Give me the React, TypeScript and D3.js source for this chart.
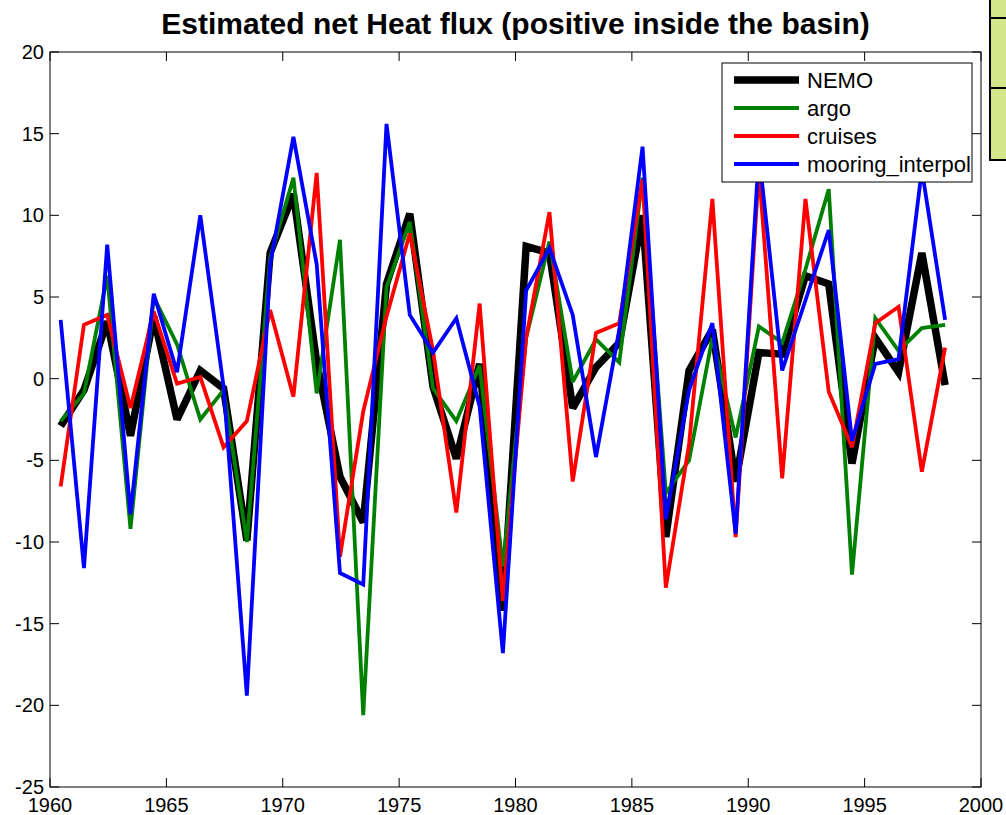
import React from 'react';
import * as d3 from 'd3';

// yearly values, plotted at mid-year
const years = [1960, 1961, 1962, 1963, 1964, 1965, 1966, 1967, 1968, 1969, 1970, 1971, 1972, 1973, 1974, 1975, 1976, 1977, 1978, 1979, 1980, 1981, 1982, 1983, 1984, 1985, 1986, 1987, 1988, 1989, 1990, 1991, 1992, 1993, 1994, 1995, 1996, 1997, 1998];
const nemo = [-2.9, -0.7, 3.5, -3.5, 3.8, -2.5, 0.5, -0.6, -9.9, 7.7, 11.3, 1.0, -6.0, -8.8, 5.8, 10.1, -0.5, -4.9, 0.9, -14.2, 8.1, 7.7, -1.8, 0.7, 2.2, 10.0, -9.7, 0.5, 3.0, -6.3, 1.6, 1.5, 6.3, 5.8, -5.2, 2.5, 0.4, 7.7, -0.4];
const argo = [-2.6, -0.9, 6.3, -9.2, 5.0, 2.1, -2.5, -0.7, -10.0, 7.4, 12.3, -0.9, 8.5, -20.6, 5.6, 9.6, -0.6, -2.6, 0.8, -11.5, 2.5, 8.4, -0.2, 2.4, 1.0, 12.3, -7.0, -5.0, 2.5, -3.6, 3.2, 2.2, 6.7, 11.6, -12.0, 3.7, 1.7, 3.1, 3.3];
const cruises = [-6.6, 3.3, 3.9, -1.8, 4.1, -0.3, 0.1, -4.2, -2.6, 4.2, -1.1, 12.6, -10.9, -2.0, 3.8, 8.9, 1.7, -8.2, 4.6, -13.6, 2.5, 10.2, -6.3, 2.8, 3.4, 12.2, -12.8, -4.0, 11.0, -9.7, 12.8, -6.1, 11.0, -0.8, -4.2, 3.4, 4.4, -5.7, 1.9];
const mooring = [3.6, -11.6, 8.2, -8.3, 5.2, 0.4, 10.0, -0.5, -19.4, 7.0, 14.8, 7.0, -11.9, -12.6, 15.6, 3.9, 1.6, 3.7, -1.7, -16.8, 5.4, 8.0, 3.9, -4.8, 3.0, 14.2, -8.6, -0.7, 3.4, -9.5, 13.8, 0.5, 4.8, 9.1, -3.8, 0.9, 1.2, 12.8, 3.6];

const seriesNames = ['NEMO', 'argo', 'cruises', 'mooring_interpol'];
const seriesColors = ['#000000', '#008000', '#ff0000', '#0000ff'];
const seriesWidths = [7.5, 3.8, 3.8, 3.8];
const seriesValues = [nemo, argo, cruises, mooring];

const xTicks = [1960, 1965, 1970, 1975, 1980, 1985, 1990, 1995, 2000];
const yTicks = [-25, -20, -15, -10, -5, 0, 5, 10, 15, 20];

const W = 1006;
const H = 815;
const margin = { left: 50, right: 25, top: 52, bottom: 28 };
const FONT = '"Liberation Sans", Arial, Helvetica, sans-serif';
const MID_YEAR = 5.5 / 12;

export default function App() {
  const x = d3.scaleLinear().domain([1960, 2000]).range([margin.left, W - margin.right]);
  const y = d3.scaleLinear().domain([-25, 20]).range([H - margin.bottom, margin.top]);
  const line = d3.line<number>()
    .x((_, i) => x(years[i] + MID_YEAR))
    .y(d => y(d));

  const x0 = x.range()[0], x1 = x.range()[1];
  const y0 = y.range()[1], y1 = y.range()[0];
  const tick = 9;

  // legend box
  const lg = { x: 722, y: 63, w: 250, h: 119 };

  return (
    <svg width={W} height={H} style={{ position: 'absolute', left: 0, top: 0, background: '#fff' }}
      fontFamily={FONT}>
      <rect x={0} y={0} width={W} height={H} fill="#fff" />

      {/* partial colorbar-like box at the right edge */}
      <rect x={990} y={-2} width={30} height={162} fill="#d4e68a" stroke="#000" strokeWidth={2} />
      <line x1={990} x2={1010} y1={18} y2={18} stroke="#000" strokeWidth={2} />
      <line x1={990} x2={1010} y1={88} y2={88} stroke="#000" strokeWidth={2} />

      <text x={(x0 + x1) / 2} y={34} textAnchor="middle" fontSize={30} fontWeight="bold">
        Estimated net Heat flux (positive inside the basin)
      </text>

      <g clipPath="url(#plotclip)">
        {seriesValues.map((vals, k) => (
          <path key={seriesNames[k]} d={line(vals) || ''} fill="none" stroke={seriesColors[k]}
            strokeWidth={seriesWidths[k]} strokeLinejoin="miter" strokeMiterlimit={3} />
        ))}
      </g>
      <defs>
        <clipPath id="plotclip">
          <rect x={x0} y={y0} width={x1 - x0} height={y1 - y0} />
        </clipPath>
      </defs>

      {/* axes box */}
      <rect x={x0} y={y0} width={x1 - x0} height={y1 - y0} fill="none" stroke="#000" strokeWidth={1} />

      {xTicks.map(t => (
        <g key={'x' + t}>
          <line x1={x(t)} x2={x(t)} y1={y1} y2={y1 - tick} stroke="#000" />
          <line x1={x(t)} x2={x(t)} y1={y0} y2={y0 + tick} stroke="#000" />
          <text x={x(t)} y={y1 + 25} textAnchor="middle" fontSize={20}>{t}</text>
        </g>
      ))}
      {yTicks.map(t => (
        <g key={'y' + t}>
          <line x1={x0} x2={x0 + tick} y1={y(t)} y2={y(t)} stroke="#000" />
          <line x1={x1} x2={x1 - tick} y1={y(t)} y2={y(t)} stroke="#000" />
          <text x={x0 - 6} y={y(t) + 7} textAnchor="end" fontSize={20}>{t}</text>
        </g>
      ))}

      {/* legend */}
      <rect x={lg.x} y={lg.y} width={lg.w} height={lg.h} fill="#fff" stroke="#000" strokeWidth={1} />
      {seriesNames.map((name, k) => {
        const ly = 80 + k * 28;
        return (
          <g key={'lg' + name}>
            <line x1={734} x2={799} y1={ly} y2={ly} stroke={seriesColors[k]} strokeWidth={seriesWidths[k]} />
            <text x={807} y={ly + 7.5} fontSize={22}>{name}</text>
          </g>
        );
      })}
    </svg>
  );
}
